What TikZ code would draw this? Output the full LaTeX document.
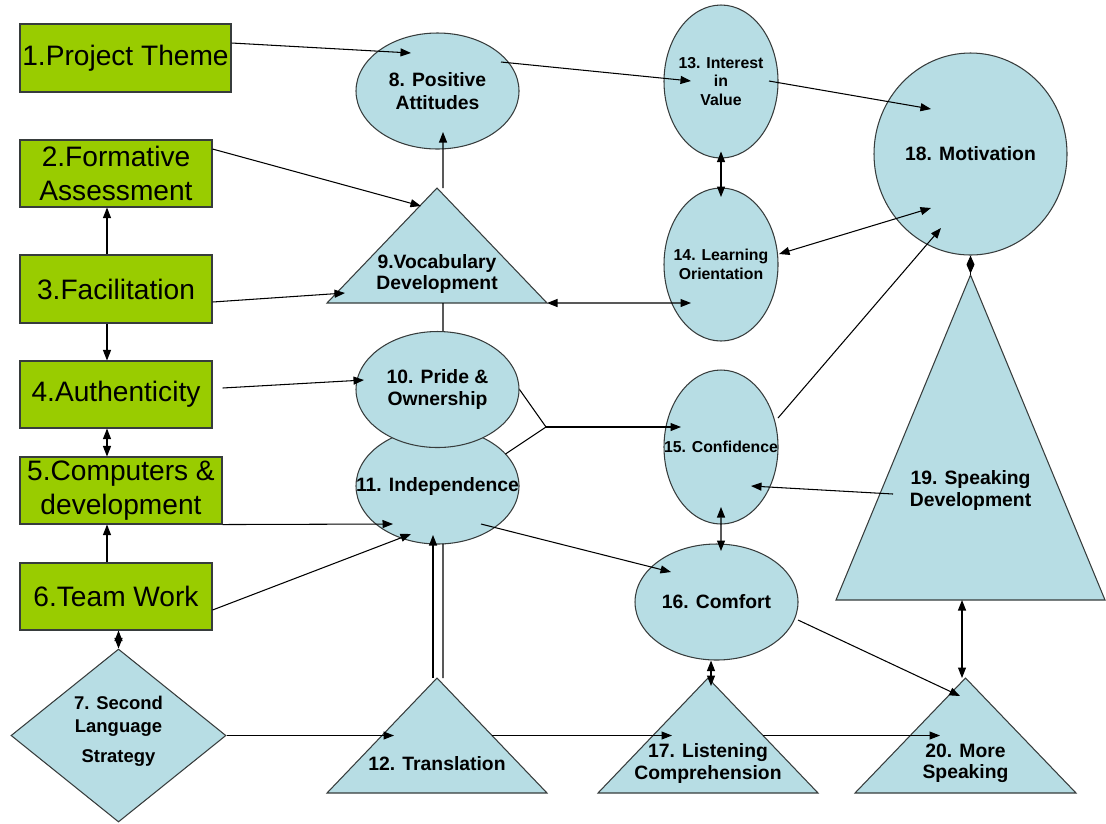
\documentclass[tikz,border=0pt]{standalone}
\usepackage{fontspec}
\setmainfont{Liberation Sans}
\usetikzlibrary{arrows.meta, shapes.geometric, calc}
\definecolor{boxgreen}{RGB}{153,204,0}
\definecolor{shapeblue}{RGB}{183,221,228}
\definecolor{edgegray}{RGB}{55,60,60}

\tikzset{
	gbox/.style={draw=edgegray, fill=boxgreen, line width=0.6pt, inner sep=0pt, align=center, font=\fontsize{16}{19.5}\selectfont},
	bell/.style={ellipse, draw=edgegray, fill=shapeblue, line width=0.6pt, inner sep=0pt},
	tribox/.style={inner sep=0pt, outer sep=0pt},
	tri/.style={draw=edgegray, fill=shapeblue, line width=0.6pt, line join=miter},
	etext/.style={align=center, inner sep=0pt, font=\bfseries\fontsize{11}{12.8}\selectfont},
	stext/.style={align=center, inner sep=0pt, font=\bfseries\fontsize{9}{10.5}\selectfont},
	link/.style={line width=0.6pt},
	conn/.style={link, -{Triangle[length=2.1mm, width=1.6mm]}},
	dconn/.style={link, {Triangle[length=2.1mm, width=1.6mm]}-{Triangle[length=2.1mm, width=1.6mm]}},
}

\begin{document}
\begin{tikzpicture}[x=0.2mm, y=-0.2mm]
	\useasboundingbox (0,0) rectangle (1106,823);

	\node[gbox, minimum width=42.2mm, minimum height=13.6mm] (n1) at (125.5,58) {1.Project Theme};
	\node[gbox, minimum width=38.4mm, minimum height=13.4mm] (n2) at (116,173.5) {2.Formative\\Assessment};
	\node[gbox, minimum width=38.4mm, minimum height=13.6mm] (n3) at (116,289) {3.Facilitation};
	\node[gbox, minimum width=38.4mm, minimum height=13.4mm] (n4) at (116,394.5) {4.Authenticity};
	\node[gbox, minimum width=40.4mm, minimum height=13.4mm] (n5) at (121,490.5) {5.Computers \&\\development};
	\node[gbox, minimum width=38.4mm, minimum height=13.4mm] (n6) at (116,596.5) {6.Team Work};
	\node[diamond, draw=edgegray, fill=shapeblue, line width=0.6pt, inner sep=0pt, minimum width=43mm, minimum height=34.6mm,
		label={[etext, font=\bfseries\fontsize{10.5}{13.5}\selectfont, yshift=0.9mm]center:{7. Second\\Language\\[1.2mm]Strategy}}] (n7) at (118.5,735.5) {};

	\node[bell, minimum width=32.6mm, minimum height=23.2mm, label={[etext]center:{8. Positive\\Attitudes}}] (n8) at (437.5,91) {};
	\node[tribox, minimum width=44mm, minimum height=23mm] (n9) at (437,245.5) {};
	\draw[tri] (n9.south west) -- (n9.north) -- (n9.south east) -- cycle;
	\node[etext, font=\bfseries\fontsize{11}{12.5}\selectfont] (l9) at ([shift={(0,28.5)}]n9.center) {9.Vocabulary\\Development};
	\node[bell, minimum width=32.6mm, minimum height=23.2mm, label={[etext]center:{11. Independence}}] (n11) at (437.5,486) {};
	\node[bell, minimum width=32.6mm, minimum height=23.2mm, label={[etext]center:{10. Pride \&\\Ownership}}] (n10) at (437.5,389.5) {};
	\node[tribox, minimum width=44mm, minimum height=23mm] (n12) at (437,735.5) {};
	\draw[tri] (n12.south west) -- (n12.north) -- (n12.south east) -- cycle;
	\node[etext] (l12) at ([shift={(0,28.5)}]n12.center) {12. Translation};

	\node[bell, minimum width=22.8mm, minimum height=30.6mm, label={[stext]center:{13. Interest\\in\\Value}}] (n13) at (721,81.5) {};
	\node[bell, minimum width=22.8mm, minimum height=30.6mm, label={[stext]center:{14. Learning\\Orientation}}] (n14) at (721,264.5) {};
	\node[bell, minimum width=22.8mm, minimum height=30.8mm, label={[stext]center:{15. Confidence}}] (n15) at (721,447) {};
	\node[bell, minimum width=32.6mm, minimum height=23.2mm, label={[etext]center:{16. Comfort}}] (n16) at (716.5,602) {};
	\node[tribox, minimum width=44mm, minimum height=23mm] (n17) at (708,735.5) {};
	\draw[tri] (n17.south west) -- (n17.north) -- (n17.south east) -- cycle;
	\node[etext, font=\bfseries\fontsize{11}{12}\selectfont] (l17) at ([shift={(0,28)}]n17.center) {17. Listening\\Comprehension};

	\node[bell, minimum width=38.6mm, minimum height=40.4mm, label={[etext]center:{18. Motivation}}] (n18) at (970.5,154) {};
	\node[tribox, minimum width=53.8mm, minimum height=65mm] (n19) at (970.5,437.5) {};
	\draw[tri] (n19.south west) -- (n19.north) -- (n19.south east) -- cycle;
	\node[etext, font=\bfseries\fontsize{11}{12.5}\selectfont] (l19) at ([shift={(0,52.5)}]n19.center) {19. Speaking\\Development};
	\node[tribox, minimum width=44.2mm, minimum height=23mm] (n20) at (965.5,735.5) {};
	\draw[tri] (n20.south west) -- (n20.north) -- (n20.south east) -- cycle;
	\node[etext, font=\bfseries\fontsize{11}{12}\selectfont] (l20) at ([shift={(0,28)}]n20.center) {20. More\\Speaking};

	\draw[conn] ([shift={(0,-15)}]n1.east) -- ([shift={(-26.5,-38)}]n8.center);
	\draw[conn] ([shift={(63.5,-29)}]n8.center) -- ([shift={(-30,-0.5)}]n13.center);
	\draw[conn] ([shift={(48,-0.5)}]n13.center) -- ([shift={(-39.5,-45)}]n18.center);
	\draw[dconn] ([shift={(0,70)}]n13.center) -- ([shift={(0,-67.5)}]n14.center);
	\draw[dconn] ([shift={(58,-10.5)}]n14.center) -- ([shift={(-39.5,54)}]n18.center);
	\draw[dconn] (n9.south east) -- ([shift={(-30,38.5)}]n14.center);
	\draw[conn] ([shift={(0,-24.5)}]n2.east) -- ([shift={(-16,-39.5)}]n9.center);
	\draw[conn] ([shift={(0,13)}]n3.east) -- ([shift={(-92,47.5)}]n9.center);
	\draw[conn] ([shift={(6,0)}]n9.north) -- ([shift={(5.5,41)}]n8.center);
	\draw[link] ([shift={(6,0)}]n9.south) -- ([shift={(5.5,0)}]n10.north);

	\draw[conn] ([shift={(-9,0)}]n3.north) -- ([shift={(-9,0)}]n2.south);
	\draw[conn] ([shift={(-9,0)}]n3.south) -- ([shift={(-9,0)}]n4.north);
	\draw[dconn] ([shift={(-9,0)}]n4.south) -- ([shift={(-14,0)}]n5.north);
	\draw[conn] ([shift={(-9,0)}]n6.north) -- ([shift={(-14,0)}]n5.south);
	\draw[dconn] (n6.south -| n7.north) -- (n7.north);

	\draw[conn] ([shift={(10,-6.5)}]n4.east) -- ([shift={(-73.5,-9.5)}]n10.center);
	\draw[conn] (n5.south east) -- ([shift={(-44.5,38)}]n11.center);
	\draw[conn] ([shift={(0,13.5)}]n6.east) -- ([shift={(-26.5,48)}]n11.center);
	\draw[conn] ([shift={(-4,0)}]n12.north) -- ([shift={(-4.5,49)}]n11.center);
	\draw[link] ([shift={(6,0)}]n12.north) -- ([shift={(5.5,57.7)}]n11.center);

	\coordinate (j15) at (546,427);
	\draw[link] (n10.east) -- (j15) -- ([shift={(68,-32)}]n11.center);
	\draw[conn] (j15) -- ([shift={(-40,-20)}]n15.center);
	\draw[conn] ([shift={(43.5,38)}]n11.center) -- ([shift={(-45.5,-30)}]n16.center);
	\draw[conn] ([shift={(57,-29)}]n15.center) -- ([shift={(-29.5,74)}]n18.center);
	\draw[conn] ([shift={(-77.5,56.5)}]n19.center) -- ([shift={(30,39)}]n15.center);
	\draw[dconn] ([shift={(0,60)}]n15.center) -- ([shift={(4.5,-51)}]n16.center);
	\draw[dconn] ([shift={(-5.5,0)}]n16.south) -- ([shift={(3,8)}]n17.north);
	\draw[conn] ([shift={(81.5,18)}]n16.center) -- ([shift={(-5.5,18)}]n20.north);
	\draw[dconn] ([shift={(-8.5,0)}]n19.south) -- ([shift={(-3.5,0)}]n20.north);
	\draw[link, -{Diamond[length=3.6mm, width=1.6mm]}] (n19.north) -- (n18.south);

	\draw[conn] (n7.east) -- ([shift={(-43,0)}]n12.center);
	\draw[conn] ([shift={(55,0)}]n12.center) -- ([shift={(-36,0)}]n17.center);
	\draw[conn] ([shift={(55,0)}]n17.center) -- ([shift={(-25.5,0)}]n20.center);
\end{tikzpicture}
\end{document}
